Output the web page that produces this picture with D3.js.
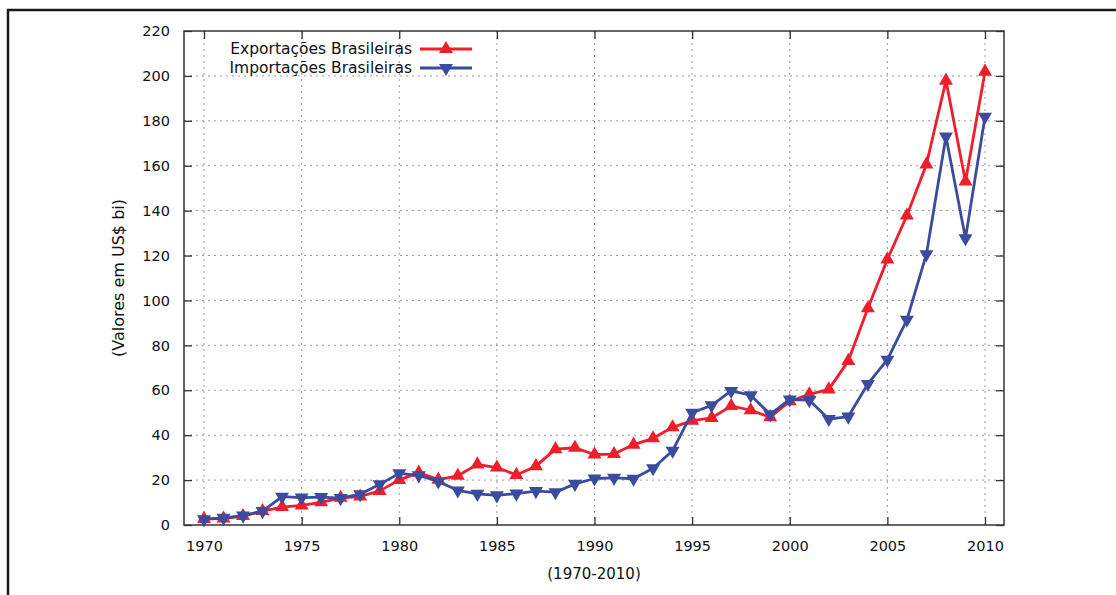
<!DOCTYPE html>
<html>
<head>
<meta charset="utf-8">
<script src="https://cdn.jsdelivr.net/npm/d3@7"></script>
<style>
  body { margin: 0; background: #fff; }
  text { font-family: "DejaVu Sans", Verdana, sans-serif; fill: #111; }
</style>
</head>
<body>
<svg id="chart" width="1116" height="595"></svg>
<script>
const years = d3.range(1970, 2011)

// US$ bi
const exportacoes = [2.7, 2.9, 4.0, 6.2, 8.0, 8.7, 10.1, 12.1, 12.7, 15.2,
  20.1, 23.3, 20.2, 21.9, 27.0, 25.6, 22.3, 26.2, 33.8, 34.4,
  31.4, 31.6, 35.8, 38.6, 43.5, 46.5, 47.7, 53.0, 51.1, 48.0,
  55.1, 58.2, 60.4, 73.1, 96.5, 118.3, 137.8, 160.6, 197.9, 153.0, 201.9]

const importacoes = [2.5, 3.2, 4.2, 6.2, 12.6, 12.2, 12.4, 12.0, 13.7, 18.1,
  23.0, 22.1, 19.4, 15.4, 13.9, 13.2, 14.0, 15.1, 14.6, 18.3,
  20.7, 21.0, 20.6, 25.3, 33.1, 50.0, 53.3, 59.7, 57.8, 49.3,
  55.9, 55.6, 47.2, 48.3, 62.8, 73.6, 91.4, 120.6, 173.0, 127.7, 181.8]

const xTicks = d3.range(1970, 2011, 5)
const yTicks = d3.range(0, 221, 20)

const seriesNames = ['Exportações Brasileiras', 'Importações Brasileiras']
const seriesColors = ['#f21d2a', '#3b4b9e']

const svg = d3.select('#chart')

const plot = { left: 184, right: 1004, top: 31, bottom: 525 }

const x = d3.scaleLinear().domain([1970, 2010]).range([204, 985])
const y = d3.scaleLinear().domain([0, 220]).range([plot.bottom, plot.top])

// outer frame
svg.append('path')
    .attr('d', `M8,595 L8,10 L1116,10`)
    .attr('fill', 'none')
    .attr('stroke', '#1a1a1a')
    .attr('stroke-width', 2.5)

// grid
const grid = svg.append('g').attr('stroke', '#9a9a9a').attr('stroke-width', 1)
    .attr('stroke-dasharray', '2,4')
grid.selectAll('line.v').data(xTicks).enter().append('line')
    .attr('x1', d => x(d)).attr('x2', d => x(d))
    .attr('y1', plot.top).attr('y2', plot.bottom)
grid.selectAll('line.h').data(yTicks.filter(d => d > 0 && d < 220)).enter().append('line')
    .attr('y1', d => y(d)).attr('y2', d => y(d))
    .attr('x1', plot.left).attr('x2', plot.right)

// axes: ticks pointing inward on all four sides
const axisColor = '#333'
const tickLen = 8

const axisL = svg.append('g').attr('transform', `translate(${plot.left},0)`)
    .call(d3.axisLeft(y).tickValues(yTicks).tickSize(-tickLen).tickPadding(tickLen + 6))
const axisR = svg.append('g').attr('transform', `translate(${plot.right},0)`)
    .call(d3.axisRight(y).tickValues(yTicks).tickSize(-tickLen).tickFormat(''))
const axisB = svg.append('g').attr('transform', `translate(0,${plot.bottom})`)
    .call(d3.axisBottom(x).tickValues(xTicks).tickSize(-tickLen).tickPadding(tickLen + 8).tickFormat(d3.format('d')))
const axisT = svg.append('g').attr('transform', `translate(0,${plot.top})`)
    .call(d3.axisTop(x).tickValues(xTicks).tickSize(-tickLen).tickFormat(''))

;[axisL, axisR, axisB, axisT].forEach(g => {
  g.select('.domain').remove()
  g.selectAll('line').attr('stroke', axisColor).attr('stroke-width', 1.3)
  g.selectAll('text').attr('font-size', 14.5).attr('fill', '#111')
    .style('font-family', '"DejaVu Sans", Verdana, sans-serif')
})

svg.append('rect')
    .attr('x', plot.left).attr('y', plot.top)
    .attr('width', plot.right - plot.left).attr('height', plot.bottom - plot.top)
    .attr('fill', 'none').attr('stroke', axisColor).attr('stroke-width', 1.5)

// axis titles
svg.append('text')
    .attr('transform', `translate(124,278) rotate(-90)`)
    .attr('text-anchor', 'middle')
    .attr('font-size', 16)
    .text('(Valores em US$ bi)')

svg.append('text')
    .attr('x', 594).attr('y', 579)
    .attr('text-anchor', 'middle')
    .attr('font-size', 15)
    .text('(1970-2010)')

// series
const triUp = d3.symbol().type(d3.symbolTriangle).size(85)
const line = d3.line().x(d => x(d[0])).y(d => y(d[1]))

const series = [exportacoes, importacoes].map((vals, i) => ({
  name: seriesNames[i],
  color: seriesColors[i],
  down: i === 1,
  points: years.map((yr, j) => [yr, vals[j]])
}))

// imports are drawn last, on top, as in the reference
series.forEach(s => {
  const g = svg.append('g')
  g.append('path')
      .attr('d', line(s.points))
      .attr('fill', 'none')
      .attr('stroke', s.color)
      .attr('stroke-width', 2.8)
      .attr('stroke-linejoin', 'round')
  g.selectAll('path.marker').data(s.points).enter().append('path')
      .attr('class', 'marker')
      .attr('d', triUp)
      .attr('fill', s.color)
      .attr('transform', d => `translate(${x(d[0])},${y(d[1])}) rotate(${s.down ? 180 : 0})`)
})

// legend
const legend = svg.append('g')
series.forEach((s, i) => {
  const ly = 49 + i * 19
  legend.append('text')
      .attr('x', 412).attr('y', ly)
      .attr('dy', '0.35em')
      .attr('text-anchor', 'end')
      .attr('font-size', 15.5)
      .text(s.name)
  legend.append('line')
      .attr('x1', 420).attr('x2', 472)
      .attr('y1', ly).attr('y2', ly)
      .attr('stroke', s.color).attr('stroke-width', 2.8)
  legend.append('path')
      .attr('d', triUp)
      .attr('fill', s.color)
      .attr('transform', `translate(446,${ly}) rotate(${s.down ? 180 : 0})`)
})
</script>
</body>
</html>
